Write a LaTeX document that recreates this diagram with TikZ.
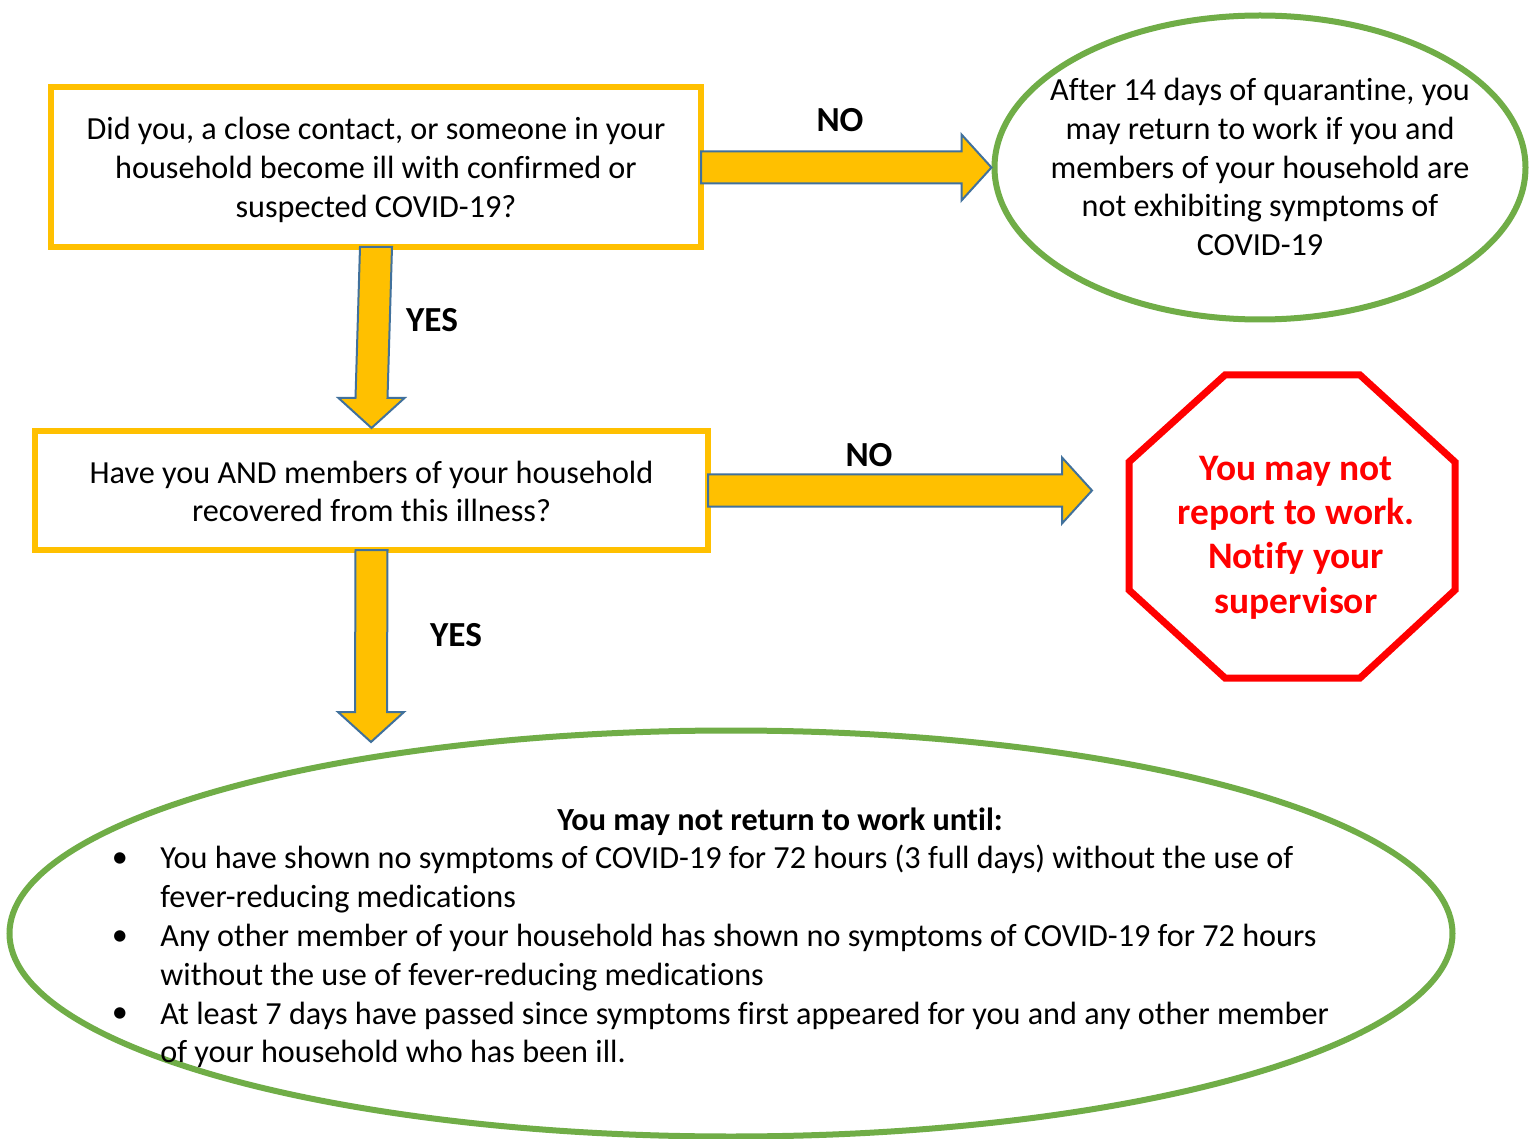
\documentclass[tikz,border=0pt]{standalone}
\usepackage{fontspec}
\setmainfont{Carlito}[Ligatures={NoCommon}]
\usetikzlibrary{shapes.geometric,calc}
\definecolor{ayellow}{HTML}{FFC000}
\definecolor{agreen}{HTML}{70AD47}
\definecolor{ablue}{HTML}{41719C}
\definecolor{ared}{HTML}{FF0000}
\newcommand{\myShaft}{8pt}
\newcommand{\myHead}{16.5pt}
\newcommand{\myHeadLen}{15pt}
\newcommand{\harrowdraw}[2]{%
  \path[blockarrow] let \p1=(#1), \p2=(#2) in
    (\x1-1.5pt,\y2+\myShaft) -- (\x2-\myHeadLen,\y2+\myShaft) -- (\x2-\myHeadLen,\y2+\myHead)
    -- (\x2,\y2) -- (\x2-\myHeadLen,\y2-\myHead) -- (\x2-\myHeadLen,\y2-\myShaft)
    -- (\x1-1.5pt,\y2-\myShaft) -- cycle;}
\newcommand{\varrowdraw}[2]{%
  \path[blockarrow] let \p1=(#1), \p2=(#2) in
    (\x1-\myShaft,\y1+1.5pt) -- (\x1+\myShaft,\y1+1.5pt) -- (\x2+\myShaft,\y2+\myHeadLen)
    -- (\x2+\myHead,\y2+\myHeadLen) -- (\x2,\y2) -- (\x2-\myHead,\y2+\myHeadLen)
    -- (\x2-\myShaft,\y2+\myHeadLen) -- cycle;}
\tikzset{
  bodyfont/.style={font=\fontsize{16.1}{19.3}\selectfont},
  qbox/.style={draw=ayellow, line width=3pt, fill=white, rectangle, inner sep=0pt},
  gell/.style={draw=agreen, line width=3pt, fill=white, ellipse, inner sep=0pt},
  txt/.style={bodyfont, inner sep=0pt, align=center},
  blockarrow/.style={fill=ayellow, draw=ablue, line width=1pt, line join=miter},
  lbl/.style={font=\fontsize{17.6}{20}\selectfont\bfseries, inner sep=0pt},
  body/.style={font=\fontsize{16.1}{19.4}\selectfont, inner sep=0pt, align=left},
}
\begin{document}
\begin{tikzpicture}[x=0.5pt, y=-0.5pt]
\useasboundingbox[fill=white] (0,0) rectangle (1533,1139);

% boxes and ellipses
\node[qbox, minimum width=325pt, minimum height=80pt] (q1) at (376,167) {};
\node[txt] (q1t) at (376,170)
  {Did you, a close contact, or someone in your\\household become ill with confirmed or\\suspected COVID-19?};
\node[qbox, minimum width=336.5pt, minimum height=59.5pt] (q2) at (371.5,490.5) {};
\node[txt] (q2t) at (371.5,491.5)
  {Have you AND members of your household\\recovered from this illness?};
\node[gell, minimum width=265.5pt, minimum height=152pt] (quar) at (1260,167.5) {};
\node[txt] (quart) at (1260,167)
  {After 14 days of quarantine, you\\may return to work if you and\\members of your household are\\not exhibiting symptoms of\\COVID-19};
\node[gell, minimum width=721.5pt, minimum height=203pt] (until) at (731,933.5) {};

% stop octagon
\coordinate (stopc) at (1292,526.5);
\draw[ared, line width=3.5pt, line join=miter, fill=white]
  (1225,375) -- (1360,375) -- (1455,462) -- (1455,590) -- (1360,678) -- (1225,678) -- (1129,590) -- (1129,462) -- cycle;
\node[font=\fontsize{18.7}{22.2}\selectfont\bfseries, text=ared, align=center, inner sep=0pt] (stop) at (1296,537.5)
  {You may not\\report to work.\\Notify your\\supervisor};

% text inside the bottom ellipse
\node[font=\fontsize{16.1}{19.4}\selectfont\bfseries, inner sep=0pt] (title) at (780,822) {You may not return to work until:};
\node[body] (b1) at (120,860) {\textbullet};
\node[body] (b2) at (120,938) {\textbullet};
\node[body] (b3) at (120,1015) {\textbullet};
\node[body, anchor=north west] (items) at (160,845)
  {You have shown no symptoms of COVID-19 for 72 hours (3 full days) without the use of\\
   fever-reducing medications\\
   Any other member of your household has shown no symptoms of COVID-19 for 72 hours\\
   without the use of fever-reducing medications\\
   At least 7 days have passed since symptoms first appeared for you and any other member\\
   of your household who has been ill.};

% connector end points
\coordinate (t3) at (1092,490.5);
\coordinate (t4) at (371,742);

% block arrows
\harrowdraw{q1.east}{quar.west}
\varrowdraw{q1.south}{q2.north}
\harrowdraw{q2.east}{t3}
\varrowdraw{q2.south}{t4}

% labels
\node[lbl] (no1) at (840,120) {NO};
\node[lbl] (yes1) at (432,320) {YES};
\node[lbl] (no2) at (869,455) {NO};
\node[lbl] (yes2) at (456,635) {YES};
\end{tikzpicture}
\end{document}
